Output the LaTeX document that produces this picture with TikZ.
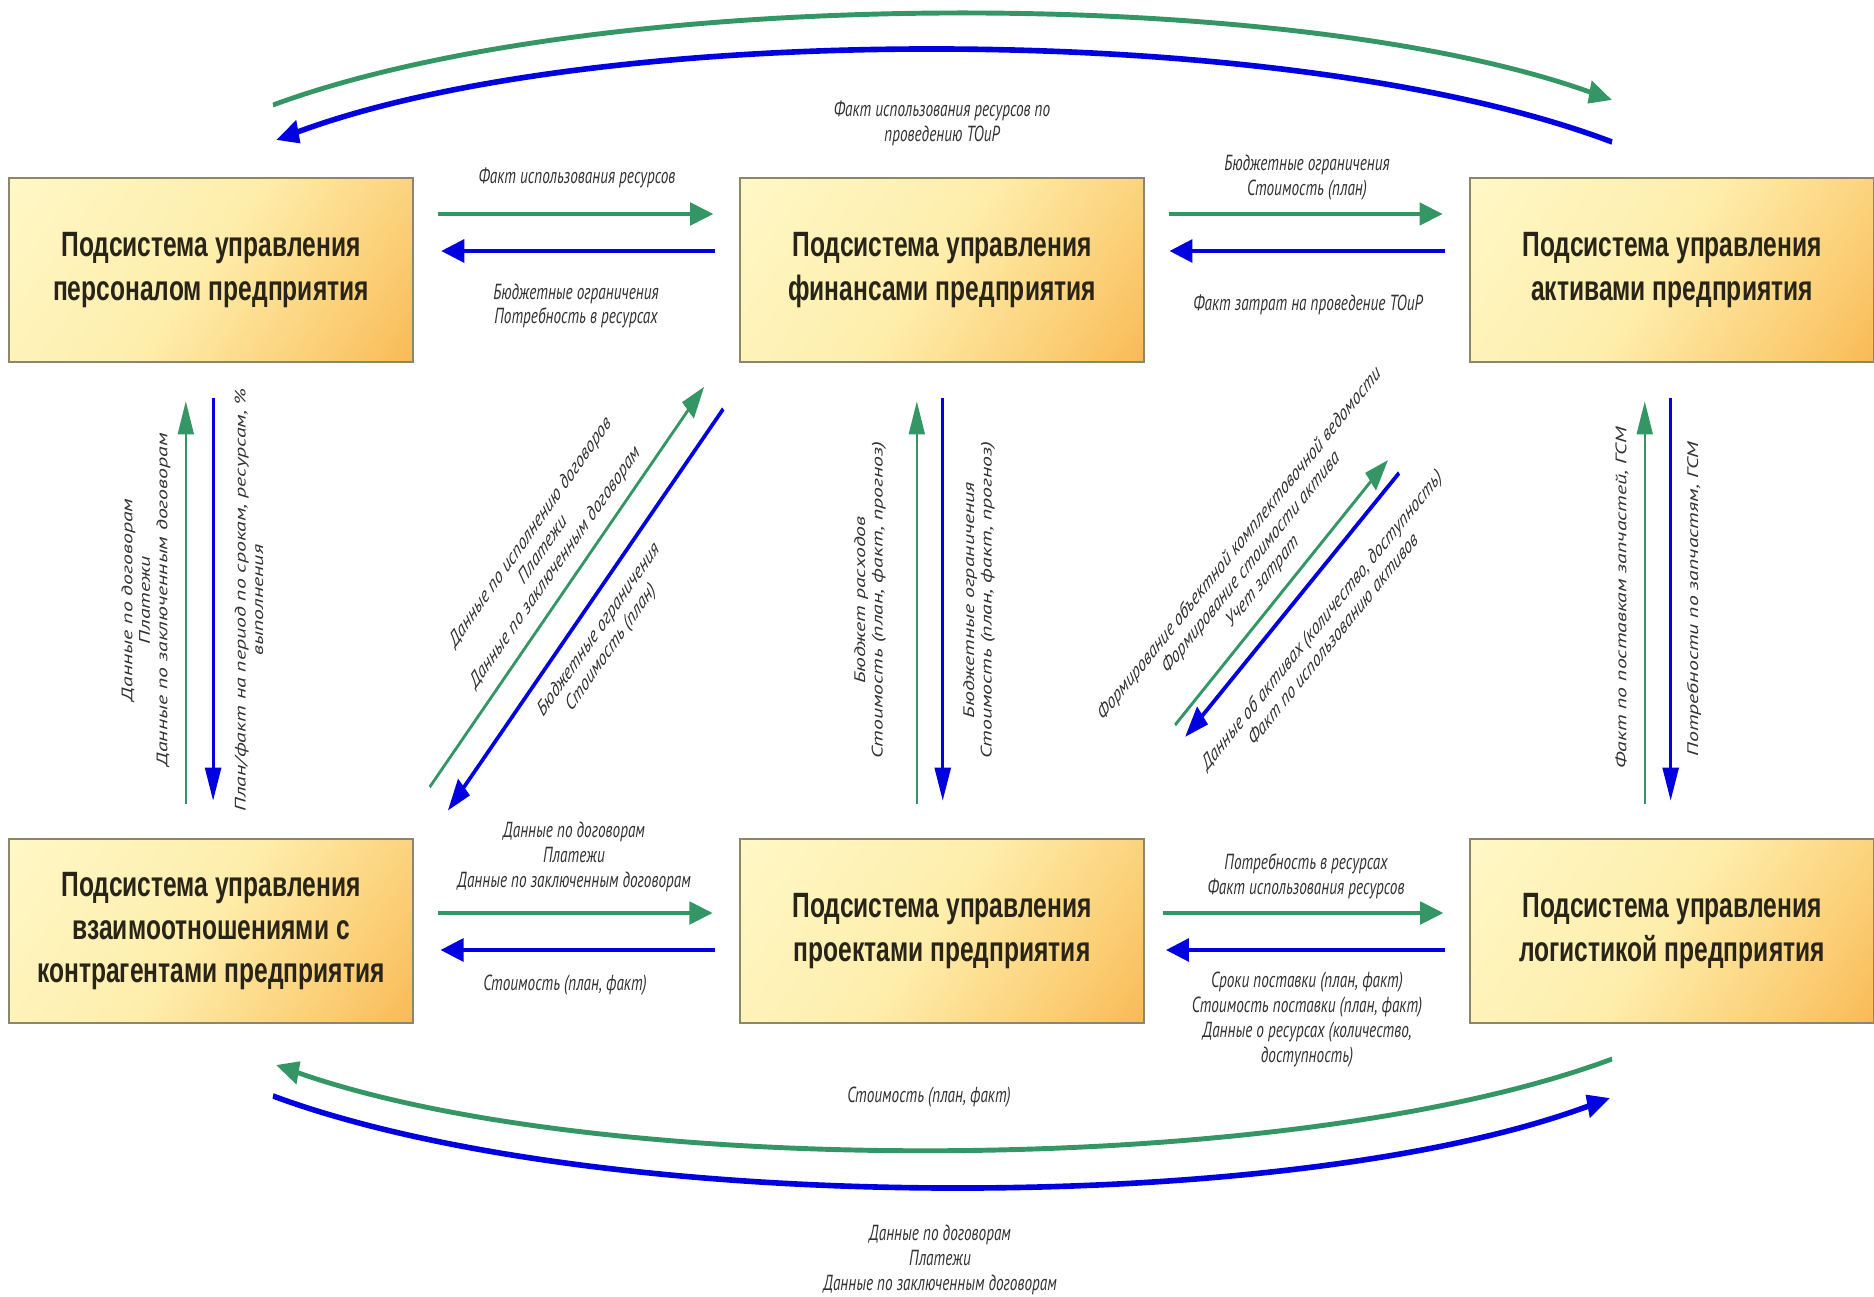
\documentclass[tikz,border=0pt]{standalone}
\usepackage{fontspec}
\setmainfont{Liberation Sans}
\newfontfamily\labfont{PT Sans}
\usetikzlibrary{arrows.meta}
\definecolor{flowgreen}{RGB}{52,150,100}
\definecolor{flowblue}{RGB}{0,0,225}
\definecolor{boxtop}{RGB}{255,251,210}
\definecolor{boxmid}{RGB}{254,238,172}
\definecolor{boxorange}{RGB}{251,205,115}
\definecolor{boxbot}{RGB}{245,163,52}
\definecolor{boxline}{RGB}{140,135,105}
\definecolor{boxtext}{RGB}{40,36,24}
\definecolor{labtext}{RGB}{50,50,50}
\pgfdeclareverticalshading{boxfill}{100bp}{color(0bp)=(boxbot); color(27bp)=(boxorange);
  color(52bp)=(boxmid); color(100bp)=(boxtop)}

\begin{document}
\begin{tikzpicture}[x=1cm, y=-1cm,
  sys/.style={draw=boxline, line width=0.7pt, shade, shading=boxfill, shading angle=45,
              align=center, inner sep=0pt, minimum width=5.77cm, minimum height=1.84cm,
              text=boxtext, font=\fontsize{10}{12.3}\selectfont\bfseries},
  lbl/.style={align=center, inner sep=0pt, text=labtext,
              font=\labfont\itshape\fontsize{6.2}{7.1}\selectfont},
  gflow/.style={draw=flowgreen, line width=1pt, -{Triangle[length=9.4pt, width=6.4pt]}},
  bflow/.style={draw=flowblue, line width=1.3pt, -{Triangle[length=9.4pt, width=6.4pt]}},
  gbow/.style={gflow, line width=1.4pt},
  bbow/.style={bflow, line width=1.6pt}]

\useasboundingbox (0,0) rectangle (18.74,12.97);
\begin{scope}[x=1.4286cm, transform canvas={xscale=0.7}]

\node[sys] (pers)  at (2.11,2.70)  {Подсистема управления\\ персоналом предприятия};
\node[sys] (fin)   at (9.42,2.70)  {Подсистема управления\\ финансами предприятия};
\node[sys] (akt)   at (16.72,2.70) {Подсистема управления\\ активами предприятия};
\node[sys] (kontr) at (2.11,9.31)  {Подсистема управления\\ взаимоотношениями с\\ контрагентами предприятия};
\node[sys] (proj)  at (9.42,9.31)  {Подсистема управления\\ проектами предприятия};
\node[sys] (log)   at (16.72,9.31) {Подсистема управления\\ логистикой предприятия};

\draw[gflow, shorten <=3.4mm, shorten >=3.7mm] ([yshift=5.6mm]pers.east) -- ([yshift=5.6mm]fin.west);
\draw[bflow, shorten <=3.4mm, shorten >=3.9mm] ([yshift=1.9mm]fin.west) -- ([yshift=1.9mm]pers.east);
\draw[gflow, shorten <=3.4mm, shorten >=3.8mm] ([yshift=5.6mm]fin.east) -- ([yshift=5.6mm]akt.west);
\draw[bflow, shorten <=3.4mm, shorten >=3.5mm] ([yshift=1.9mm]akt.west) -- ([yshift=1.9mm]fin.east);
\draw[gflow, shorten <=3.4mm, shorten >=3.8mm] ([yshift=1.8mm]kontr.east) -- ([yshift=1.8mm]proj.west);
\draw[bflow, shorten <=3.4mm, shorten >=3.8mm] ([yshift=-1.9mm]proj.west) -- ([yshift=-1.9mm]kontr.east);
\draw[gflow, shorten <=2.6mm, shorten >=3.7mm] ([yshift=1.8mm]proj.east) -- ([yshift=1.8mm]log.west);
\draw[bflow, shorten <=3.4mm, shorten >=3.0mm] ([yshift=-1.9mm]log.west) -- ([yshift=-1.9mm]proj.east);

\draw[gflow, shorten <=3.4mm, shorten >=3.8mm] ([xshift=-3.6mm]kontr.north) -- ([xshift=-3.6mm]pers.south);
\draw[bflow, shorten <=3.5mm, shorten >=3.7mm] ([xshift=0.3mm]pers.south) -- ([xshift=0.3mm]kontr.north);
\draw[gflow, shorten <=3.4mm, shorten >=3.8mm] ([xshift=-3.6mm]proj.north) -- ([xshift=-3.6mm]fin.south);
\draw[bflow, shorten <=3.5mm, shorten >=3.7mm] ([xshift=0.1mm]fin.south) -- ([xshift=0.1mm]proj.north);
\draw[gflow, shorten <=3.4mm, shorten >=3.8mm] ([xshift=-3.9mm]log.north) -- ([xshift=-3.9mm]akt.south);
\draw[bflow, shorten <=3.5mm, shorten >=3.7mm] ([xshift=-0.2mm]akt.south) -- ([xshift=-0.2mm]log.north);

\draw[gflow, shorten <=7.1mm, shorten >=3.3mm] ([xshift=-2.7mm]kontr.north east) -- ([xshift=-2.7mm]fin.south west);
\draw[bflow, shorten <=6.4mm, shorten >=3.8mm] ([xshift=2.2mm]fin.south west) -- ([xshift=2.2mm]kontr.north east);

\coordinate (ga) at (11.75,7.25);
\coordinate (gb) at (13.88,4.60);
\coordinate (ba) at (13.99,4.73);
\coordinate (bb) at (11.85,7.37);
\draw[gflow] (ga) -- (gb);
\draw[bflow] (ba) -- (bb);

\coordinate (tg1) at (2.73,1.05);
\coordinate (tg2) at (16.12,1.00);
\coordinate (tb1) at (16.12,1.42);
\coordinate (tb2) at (2.76,1.40);
\coordinate (lg1) at (16.12,10.59);
\coordinate (lg2) at (2.76,10.65);
\coordinate (lb1) at (2.73,10.96);
\coordinate (lb2) at (16.10,10.98);
\draw[gbow] (tg1) .. controls (6.00,-0.155) and (12.90,-0.155) .. (tg2);
\draw[bbow] (tb1) .. controls (12.90,0.197) and (6.00,0.197) .. (tb2);
\draw[gbow] (lg1) .. controls (12.90,11.79) and (6.00,11.79) .. (lg2);
\draw[bbow] (lb1) .. controls (6.00,12.17) and (12.90,12.17) .. (lb2);

\node[lbl] (top-lbl) at (9.42,1.235) {Факт использования ресурсов по\\ проведению ТОиР};
\node[lbl] (pf-up) at (5.77,1.78)  {Факт использования ресурсов};
\node[lbl] (pf-dn) at (5.76,3.06)  {Бюджетные ограничения\\ Потребность в ресурсах};
\node[lbl] (fa-up) at (13.07,1.78) {Бюджетные ограничения\\ Стоимость (план)};
\node[lbl] (fa-dn) at (13.08,3.05) {Факт затрат на проведение ТОиР};
\node[lbl] (kp-up) at (5.74,8.57)  {Данные по договорам\\ Платежи\\ Данные по заключенным договорам};
\node[lbl] (kp-dn) at (5.65,9.85)  {Стоимость (план, факт)};
\node[lbl] (pl-up) at (13.06,8.76) {Потребность в ресурсах\\ Факт использования ресурсов};
\node[lbl] (pl-dn) at (13.07,10.20) {Сроки поставки (план, факт)\\ Стоимость поставки (план, факт)\\
                                      Данные о ресурсах (количество,\\ доступность)};
\node[lbl] (bot-lbl) at (9.29,10.97) {Стоимость (план, факт)};
\node[lbl] (low-lbl) at (9.40,12.60) {Данные по договорам\\ Платежи\\ Данные по заключенным договорам};

\node[lbl, rotate=90] (pk-l) at (1.46,6.00)  {Данные по договорам\\ Платежи\\ Данные по заключенным договорам};
\node[lbl, rotate=90] (pk-r) at (2.49,6.00)  {План/факт на период по срокам, ресурсам, \%\\ выполнения};
\node[lbl, rotate=90] (fp-l) at (8.70,6.00)  {Бюджет расходов\\ Стоимость (план, факт, прогноз)};
\node[lbl, rotate=90] (fp-r) at (9.79,6.00)  {Бюджетные ограничения\\ Стоимость (план, факт, прогноз)};
\node[lbl, rotate=90] (al-l) at (16.22,5.98) {Факт по поставкам запчастей, ГСМ};
\node[lbl, rotate=90] (al-r) at (16.94,5.99) {Потребности по запчастям, ГСМ};

\node[lbl, rotate=45] (kf-l) at (5.43,5.50) {Данные по исполнению договоров\\ Платежи\\ Данные по заключенным договорам};
\node[lbl, rotate=45] (kf-r) at (6.05,6.39) {Бюджетные ограничения\\ Стоимость (план)};
\node[lbl, rotate=41] (pa-l) at (12.51,5.63) {Формирование объектной комплектовочной ведомости\\
                                              Формирование стоимости актива\\ Учет затрат};
\node[lbl, rotate=41] (pa-r) at (13.27,6.29) {Данные об активах (количество, доступность)\\ Факт по использованию активов};

\node[anchor=north, text=gray, font=\fontsize{10}{12}\selectfont] (page) at (17.72,12.93) {66};
\end{scope}
\end{tikzpicture}
\end{document}
